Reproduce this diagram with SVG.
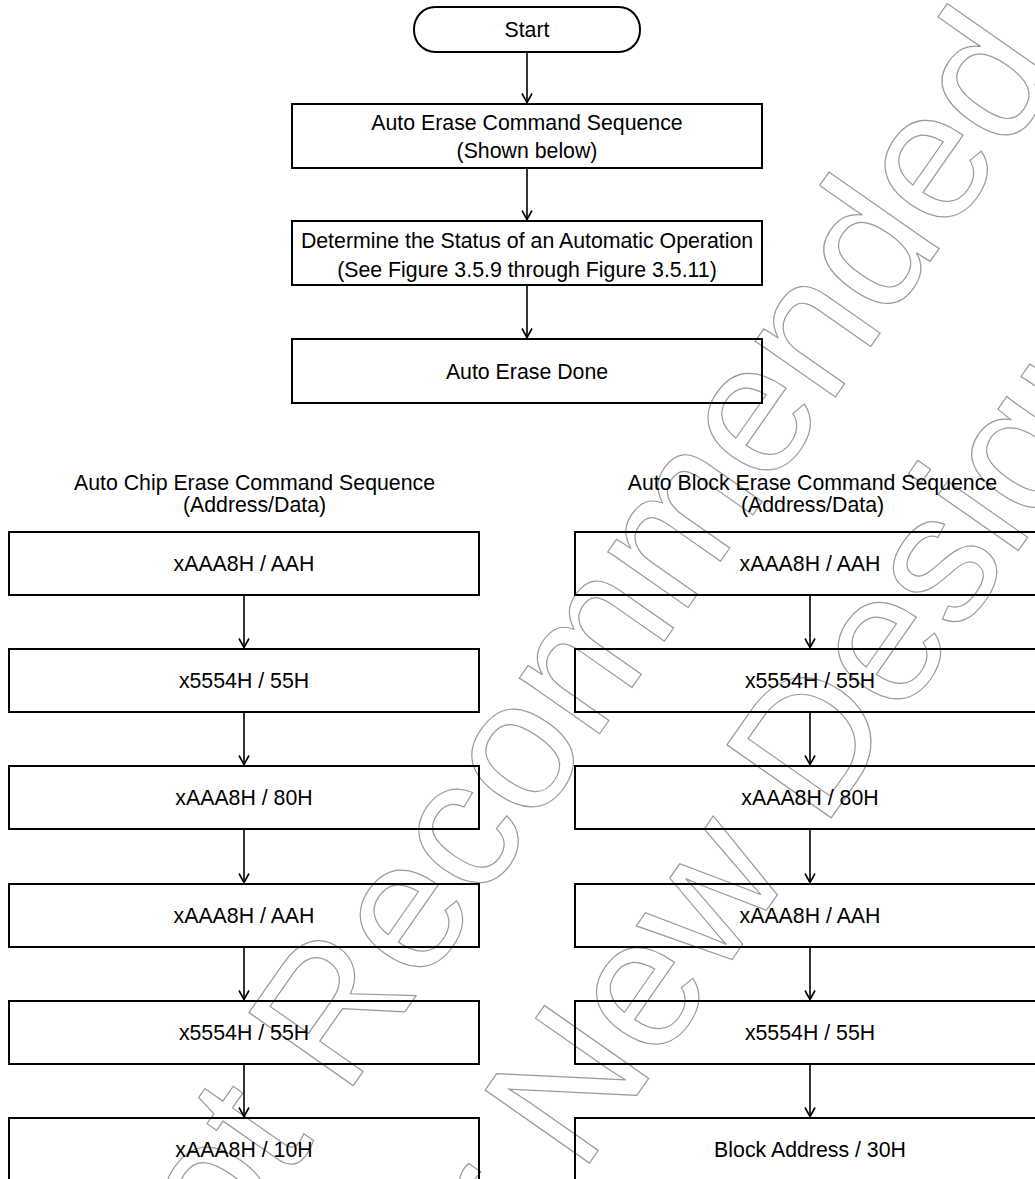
<svg xmlns="http://www.w3.org/2000/svg" width="1035" height="1179" viewBox="0 0 1035 1179">
  <defs>
    <style>
      .box { fill: none; stroke: #000; stroke-width: 2; }
      .lbl { font-family: "Liberation Sans", Arial, sans-serif; font-size: 21.3px; fill: #000; text-anchor: middle; }
      .wire { fill: none; stroke: #000; stroke-width: 1.6; }
      .wm { font-family: "Liberation Sans", Arial, sans-serif; font-size: 185px; fill: none; stroke: #9a9a9a; stroke-width: 1.2; }
    </style>
    <marker id="head" viewBox="-11 -7 13 14" refX="0" refY="0" markerWidth="13" markerHeight="14" markerUnits="userSpaceOnUse" orient="auto">
      <path d="M-9,-5 L0,0 L-9,5" fill="none" stroke="#000" stroke-width="1.6"/>
    </marker>
  </defs>
  <rect width="1035" height="1179" fill="#fff"/>

  <!-- status stamp across the page -->
  <g id="stamp" transform="rotate(-55)">
    <text class="wm" x="-1041" y="912">Not Recommended</text>
    <text class="wm" x="-897" y="1150">for New Designs</text>
  </g>

  <!-- main flow -->
  <g id="start">
    <rect class="box" x="414" y="7" width="226" height="45" rx="21" ry="22"/>
    <text class="lbl" x="527" y="37">Start</text>
  </g>
  <g id="erase-seq">
    <rect class="box" x="292" y="104" width="470" height="64"/>
    <text class="lbl" x="527" y="129.5">Auto Erase Command Sequence</text>
    <text class="lbl" x="527" y="157.5">(Shown below)</text>
  </g>
  <g id="status">
    <rect class="box" x="292" y="221" width="470" height="64"/>
    <text class="lbl" x="527" y="248">Determine the Status of an Automatic Operation</text>
    <text class="lbl" x="527" y="277">(See Figure 3.5.9 through Figure 3.5.11)</text>
  </g>
  <g id="done">
    <rect class="box" x="292" y="339" width="470" height="64"/>
    <text class="lbl" x="527" y="378.5">Auto Erase Done</text>
  </g>

  <!-- chip erase column -->
  <g id="chip-title">
    <text class="lbl" x="254.5" y="489.5">Auto Chip Erase Command Sequence</text>
    <text class="lbl" x="254.5" y="511.5">(Address/Data)</text>
  </g>
  <g id="chip-1">
    <rect class="box" x="9" y="532" width="470" height="63"/>
    <text class="lbl" x="244" y="571">xAAA8H / AAH</text>
  </g>
  <g id="chip-2">
    <rect class="box" x="9" y="649" width="470" height="63"/>
    <text class="lbl" x="244" y="688">x5554H / 55H</text>
  </g>
  <g id="chip-3">
    <rect class="box" x="9" y="766" width="470" height="63"/>
    <text class="lbl" x="244" y="805">xAAA8H / 80H</text>
  </g>
  <g id="chip-4">
    <rect class="box" x="9" y="884" width="470" height="63"/>
    <text class="lbl" x="244" y="923">xAAA8H / AAH</text>
  </g>
  <g id="chip-5">
    <rect class="box" x="9" y="1001" width="470" height="63"/>
    <text class="lbl" x="244" y="1040">x5554H / 55H</text>
  </g>
  <g id="chip-6">
    <rect class="box" x="9" y="1118" width="470" height="63"/>
    <text class="lbl" x="244" y="1157">xAAA8H / 10H</text>
  </g>

  <!-- block erase column -->
  <g id="block-title">
    <text class="lbl" x="812.5" y="489.5">Auto Block Erase Command Sequence</text>
    <text class="lbl" x="812.5" y="511.5">(Address/Data)</text>
  </g>
  <g id="block-1">
    <rect class="box" x="575" y="532" width="470" height="63"/>
    <text class="lbl" x="810" y="571">xAAA8H / AAH</text>
  </g>
  <g id="block-2">
    <rect class="box" x="575" y="649" width="470" height="63"/>
    <text class="lbl" x="810" y="688">x5554H / 55H</text>
  </g>
  <g id="block-3">
    <rect class="box" x="575" y="766" width="470" height="63"/>
    <text class="lbl" x="810" y="805">xAAA8H / 80H</text>
  </g>
  <g id="block-4">
    <rect class="box" x="575" y="884" width="470" height="63"/>
    <text class="lbl" x="810" y="923">xAAA8H / AAH</text>
  </g>
  <g id="block-5">
    <rect class="box" x="575" y="1001" width="470" height="63"/>
    <text class="lbl" x="810" y="1040">x5554H / 55H</text>
  </g>
  <g id="block-6">
    <rect class="box" x="575" y="1118" width="470" height="63"/>
    <text class="lbl" x="810" y="1157">Block Address / 30H</text>
  </g>

  <!-- connectors -->
  <g id="connectors" class="wire" marker-end="url(#head)">
    <line x1="527" y1="53" x2="527" y2="102.5"/>
    <line x1="527" y1="169" x2="527" y2="219.5"/>
    <line x1="527" y1="286" x2="527" y2="337.5"/>

    <line x1="244" y1="596" x2="244" y2="647.5"/>
    <line x1="244" y1="713" x2="244" y2="764.5"/>
    <line x1="244" y1="830" x2="244" y2="882.5"/>
    <line x1="244" y1="948" x2="244" y2="999.5"/>
    <line x1="244" y1="1065" x2="244" y2="1116.5"/>

    <line x1="810" y1="596" x2="810" y2="647.5"/>
    <line x1="810" y1="713" x2="810" y2="764.5"/>
    <line x1="810" y1="830" x2="810" y2="882.5"/>
    <line x1="810" y1="948" x2="810" y2="999.5"/>
    <line x1="810" y1="1065" x2="810" y2="1116.5"/>
  </g>
</svg>
